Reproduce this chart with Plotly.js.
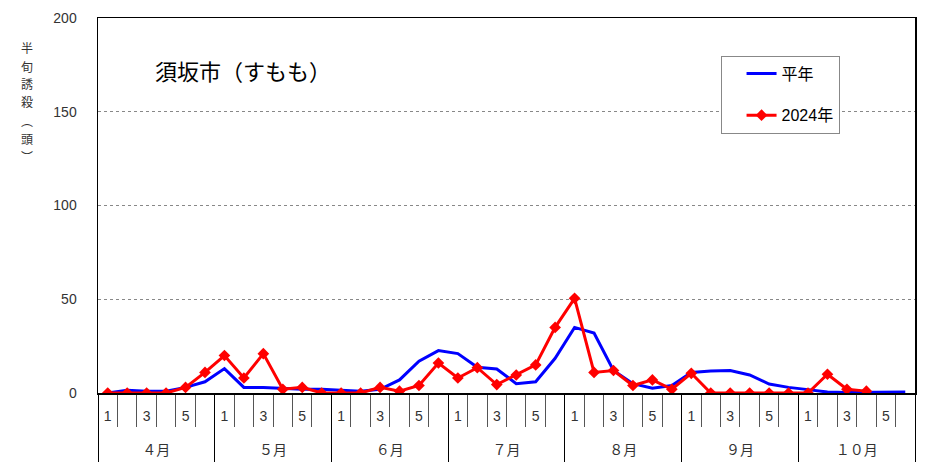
<!DOCTYPE html>
<html>
<head>
<meta charset="utf-8">
<script src="https://cdn.plot.ly/plotly-3.0.1.min.js"></script>
<style>html,body{margin:0;padding:0;background:#fff;}#chart{width:928px;height:462px;}</style>
</head>
<body>
<div id="chart"></div>
<script>
// Data
const months = ["４月", "５月", "６月", "７月", "８月", "９月", "１０月"];
const halfLabels = ["1", "", "3", "", "5", ""];
const normalValues = [
  0, 1.5, 1, 1, 3, 6,        // Apr
  13, 3, 3, 2.5, 2, 2,       // May
  1.4, 1, 2, 7, 17, 22.6,    // Jun
  21, 13.7, 12.8, 5, 6, 18.5,// Jul
  35, 32, 12, 5, 2.5, 4,     // Aug
  11, 11.7, 12, 9.6, 4.8, 3, // Sep
  1.8, 0.5, 0.3, 0.3, 0.3, 0.6 // Oct
];
const y2024Values = [
  0, 0, 0, 0, 3, 11,
  20, 8, 21, 2, 3, 0,
  0, 0, 3, 1, 4, 16,
  8, 13.5, 4.5, 9.6, 15, 35,
  50.5, 11, 12, 4, 7, 2,
  10.5, 0, 0, 0, 0, 0,
  0, 10, 2, 1
];
const yTicks = [0, 50, 100, 150, 200];
const yTitleChars = ["半", "旬", "誘", "殺", "︵", "頭", "︶"];

const per = halfLabels.length;
const nSlots = months.length * per;
const xAll = Array.from({length: nSlots}, (_, i) => i);
const slotBounds = Array.from({length: nSlots + 1}, (_, i) => i - 0.5);
const monthBounds = Array.from({length: months.length + 1}, (_, i) => i * per - 0.5);
const monthCenters = months.map((_, i) => i * per + (per - 1) / 2);
const halfText = xAll.map(i => halfLabels[i % per]);
const xr = [-0.5, nSlots - 0.5];

const FONT = "Liberation Sans, Arial, Noto Sans CJK JP, sans-serif";
const JFONT = "Noto Sans CJK JP, sans-serif";

const traces = [
  {
    x: xAll.slice(0, normalValues.length), y: normalValues,
    name: "平年", mode: "lines", type: "scatter",
    line: {color: "#0000ff", width: 3},
    legendgroup: "a"
  },
  {
    x: xAll.slice(0, y2024Values.length), y: y2024Values,
    name: "2024年", mode: "lines+markers", type: "scatter",
    line: {color: "#ff0000", width: 3},
    marker: {symbol: "diamond", size: 9, color: "#ff0000"},
    legendgroup: "b"
  },
  {x: [0], y: [0], xaxis: "x2", mode: "markers", marker: {opacity: 0}, showlegend: false, hoverinfo: "skip"},
  {x: [0], y: [0], xaxis: "x3", mode: "markers", marker: {opacity: 0}, showlegend: false, hoverinfo: "skip"},
  {x: [0], y: [0], xaxis: "x4", mode: "markers", marker: {opacity: 0}, showlegend: false, hoverinfo: "skip"}
];

// vertical y-axis title, one character per annotation
const yTitleAnnots = yTitleChars.map((ch, i) => ({
  text: ch, xref: "paper", yref: "paper",
  x: -0.087, y: 1 - (48 + i * 18 - 18) / 375,
  xanchor: "center", yanchor: "middle", showarrow: false,
  font: {size: 12, family: JFONT, color: "#333"}
}));

const layout = {
  width: 928, height: 462,
  margin: {l: 98, r: 13, t: 18, b: 69},
  paper_bgcolor: "#fff", plot_bgcolor: "#fff",
  font: {family: FONT, size: 14, color: "#000"},
  showlegend: true,
  legend: {
    x: 0.762, y: 0.9, xanchor: "left", yanchor: "top",
    bgcolor: "#fff", bordercolor: "#888", borderwidth: 1,
    font: {size: 16, family: FONT},
    traceorder: "grouped", tracegroupgap: 18,
    indentation: 20, entrywidth: 114, entrywidthmode: "pixels"
  },
  title: {
    text: "須坂市（すもも）",
    x: 155 / 928, xref: "container", xanchor: "left",
    y: 1 - 72 / 462, yref: "container", yanchor: "middle",
    font: {size: 22, family: JFONT, color: "#000"}
  },
  xaxis: {
    range: xr, tickmode: "array", tickvals: slotBounds, showticklabels: false,
    ticks: "outside", ticklen: 32, tickcolor: "#555", tickwidth: 1,
    showgrid: false, zeroline: false,
    showline: true, linecolor: "#000", linewidth: 1.5, mirror: true
  },
  xaxis2: {
    overlaying: "x", anchor: "y", side: "bottom", range: xr,
    tickmode: "array", tickvals: monthBounds, showticklabels: false,
    ticks: "outside", ticklen: 72, tickcolor: "#000", tickwidth: 1,
    showgrid: false, zeroline: false, showline: false
  },
  xaxis3: {
    overlaying: "x", anchor: "y", side: "bottom", range: xr,
    tickmode: "array", tickvals: xAll, ticktext: halfText,
    ticks: "", ticklabelstandoff: 13,
    tickfont: {size: 14, color: "#333", family: FONT},
    showgrid: false, zeroline: false, showline: false
  },
  xaxis4: {
    overlaying: "x", anchor: "y", side: "bottom", range: xr,
    tickmode: "array", tickvals: monthCenters, ticktext: months,
    ticks: "", ticklabelstandoff: 47,
    tickfont: {size: 14, color: "#333", family: JFONT},
    showgrid: false, zeroline: false, showline: false
  },
  yaxis: {
    range: [0, 200], tickmode: "array", tickvals: yTicks,
    ticks: "", ticklabelstandoff: 17,
    tickfont: {size: 14, color: "#333", family: FONT},
    showgrid: true, gridcolor: "#888", griddash: "dot", gridwidth: 1,
    zeroline: false, showline: true, linecolor: "#000", linewidth: 1.5, mirror: true
  },
  annotations: yTitleAnnots
};

Plotly.newPlot("chart", traces, layout, {staticPlot: true, displayModeBar: false});
</script>
</body>
</html>
